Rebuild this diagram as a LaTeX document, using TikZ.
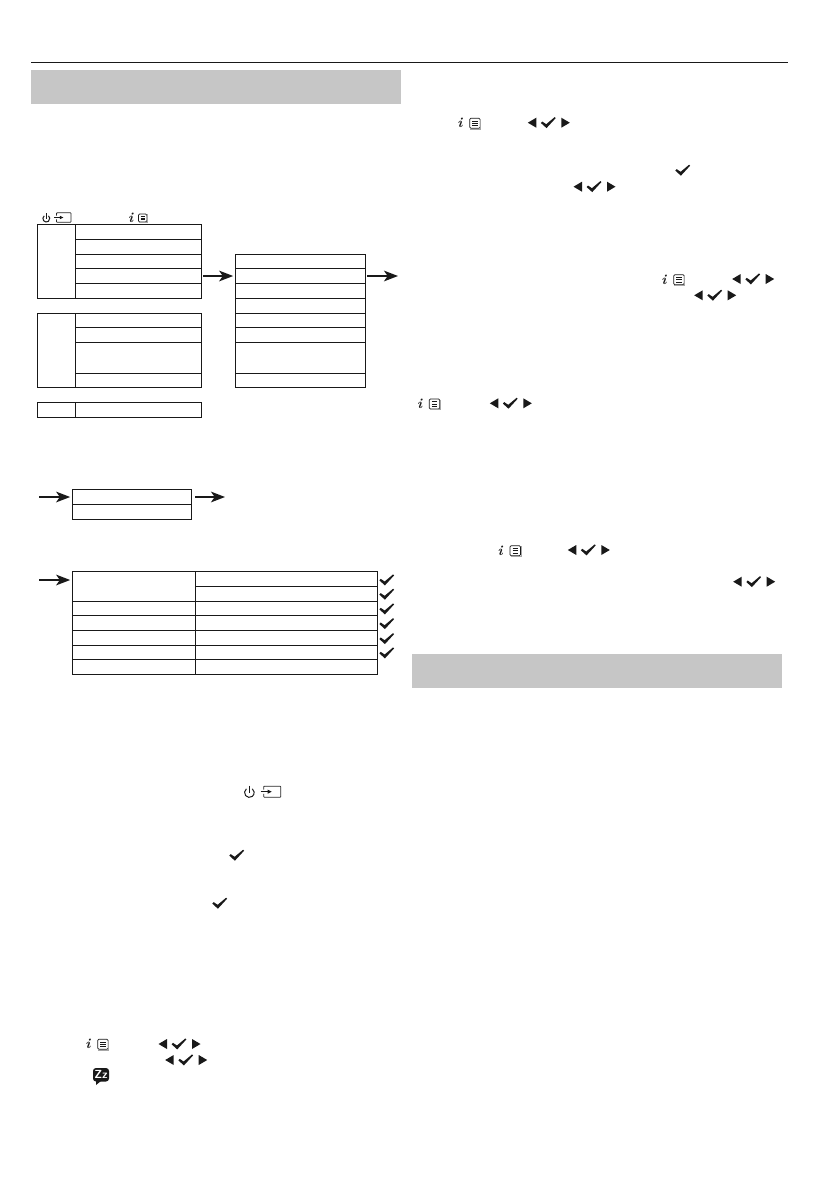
\documentclass[tikz,border=0pt]{standalone}
\usepackage{tikz}
\usetikzlibrary{arrows.meta,positioning,calc}

\definecolor{barGrey}{HTML}{C6C6C6}
\newcommand{\rowcell}[5]{\node[cellbox, minimum width={(#4-#2)*0.03cm}, minimum height={(#5-#3)*0.03cm}] at ({(#2+#4)/2},{(#3+#5)/2}) (#1) {};}

\tikzset{
	cellbox/.style={draw=black!90, line width=0.75pt, inner sep=0pt, outer sep=0pt},
	flowarrow/.style={-{Stealth[length=0.42cm,width=0.32cm,inset=0.11cm]}, line width=1.5pt, black!90},
	pics/tickmark/.style={code={
		\fill[black!90] (-7.4,0.3) -- (-6,-1.2) -- (-2.1,1.5) -- (6.4,-5.6) -- (7.4,-4.6) -- (-1.8,5.4) -- cycle;
	}},
	pics/navkeys/.style={code={
		\fill[black!90] (-20.5,0) -- (-12,-5) -- (-12,5) -- cycle;
		\fill[black!90] (21.5,0) -- (13,-5) -- (13,5) -- cycle;
		\pic {tickmark};
	}},
	pics/powericon/.style={code={
		\draw[line width=0.85pt, black!90] (-2.9,-3.7) arc[start angle=232, end angle=-52, radius=4.8];
		\draw[line width=0.85pt, black!90] (0,-7) -- (0,0);
	}},
	pics/inputicon/.style={code={
		\draw[line width=0.65pt, black!85, rounded corners=0.5pt] (-7,-2.2) -- (-7,-5.5) -- (10,-5.5) -- (10,5.5) -- (-7,5.5) -- (-7,2.2);
		\draw[line width=0.65pt, black!90] (-10,0) -- (-2,0);
		\fill[black!90] (1,0) -- (-3,-2) -- (-3,2) -- cycle;
	}},
	pics/infoicon/.style={code={
		\node[inner sep=0pt, text=black!90, font=\fontsize{12}{12}\bfseries\itshape] at (-0.8,0) (-glyph) {i};
		\filldraw[draw=black!90, fill=white, line width=0.6pt, rounded corners=1pt] (9,-5) rectangle (19.5,5);
		\draw[black!35, line width=0.6pt] (9.5,5.6) -- (20,5.6) -- (20,-4.5);
		\foreach \ly in {-2.3,0,2.3}
			\draw[black!90, line width=0.7pt] (11.5,\ly) -- (17,\ly);
	}},
	pics/sleepicon/.style={code={
		\fill[black!90, rounded corners=2.5pt] (-8,-7.5) rectangle (8,6);
		\fill[black!90] (-5,5) -- (-5,9.5) -- (0,5.5) -- cycle;
		\node[inner sep=0pt, text=white, font=\fontsize{10}{10}\sffamily\bfseries] at (0,-1) (-label) {Zz};
	}}
}

\begin{document}
\begin{tikzpicture}[x=0.03cm, y=-0.03cm]
	\useasboundingbox (0,0) rectangle (839,1191);

	\draw[line width=0.75pt, black!90] (31,62.5) -- (788,62.5);
	\fill[barGrey] (31,70) rectangle (401,104);
	\fill[barGrey] (412,654) rectangle (782,688);

	% first column of tables
	\rowcell{Aside}{37.5}{224.5}{75.5}{298.5}
	\rowcell{A1}{75.5}{224.5}{201.5}{239.5}
	\rowcell{A2}{75.5}{239.5}{201.5}{254.5}
	\rowcell{A3}{75.5}{254.5}{201.5}{268.5}
	\rowcell{A4}{75.5}{268.5}{201.5}{283.5}
	\rowcell{A5}{75.5}{283.5}{201.5}{298.5}

	\rowcell{Bside}{37.5}{313.5}{75.5}{387.5}
	\rowcell{B1}{75.5}{313.5}{201.5}{327.5}
	\rowcell{B2}{75.5}{327.5}{201.5}{342.5}
	\rowcell{B3}{75.5}{342.5}{201.5}{373.5}
	\rowcell{B4}{75.5}{373.5}{201.5}{387.5}

	\rowcell{Cside}{37.5}{402.5}{75.5}{417.5}
	\rowcell{C1}{75.5}{402.5}{201.5}{417.5}

	% second column
	\rowcell{P1}{235.5}{254.5}{365.5}{268.5}
	\rowcell{P2}{235.5}{268.5}{365.5}{283.5}
	\rowcell{P3}{235.5}{283.5}{365.5}{298.5}
	\rowcell{P4}{235.5}{298.5}{365.5}{313.5}
	\rowcell{P5}{235.5}{313.5}{365.5}{327.5}
	\rowcell{P6}{235.5}{327.5}{365.5}{342.5}
	\rowcell{P7}{235.5}{342.5}{365.5}{373.5}
	\rowcell{P8}{235.5}{373.5}{365.5}{387.5}

	% small table
	\rowcell{R1}{72.5}{489.5}{191.5}{504.5}
	\rowcell{R2}{72.5}{504.5}{191.5}{519.5}

	% wide table
	\rowcell{S1}{72.5}{571.5}{195.5}{601.5}
	\rowcell{T1}{195.5}{571.5}{377.5}{586.5}
	\rowcell{T2}{195.5}{586.5}{377.5}{601.5}
	\rowcell{S3}{72.5}{601.5}{195.5}{615.5}
	\rowcell{T3}{195.5}{601.5}{377.5}{615.5}
	\rowcell{S4}{72.5}{615.5}{195.5}{630.5}
	\rowcell{T4}{195.5}{615.5}{377.5}{630.5}
	\rowcell{S5}{72.5}{630.5}{195.5}{645.5}
	\rowcell{T5}{195.5}{630.5}{377.5}{645.5}
	\rowcell{S6}{72.5}{645.5}{195.5}{659.5}
	\rowcell{T6}{195.5}{645.5}{377.5}{659.5}
	\rowcell{S7}{72.5}{659.5}{195.5}{674.5}
	\rowcell{T7}{195.5}{659.5}{377.5}{674.5}

	\coordinate (outP) at (398,276);
	\coordinate (inR) at (39,497);
	\coordinate (outR) at (225,497);
	\coordinate (inS) at (39,580);

	\draw[flowarrow, shorten <=1.5pt, shorten >=2pt] (A4.east) -- (P2.west);
	\draw[flowarrow, shorten <=1.5pt] (P2.east) -- (outP);
	\draw[flowarrow, shorten >=2pt] (inR) -- (R1.west);
	\draw[flowarrow, shorten <=3pt] (R1.east) -- (outR);
	\draw[flowarrow, shorten >=2pt] (inS) -- (inS -| S1.west);

	\foreach \ty in {580,594.3,609,623.7,638.7,653}
		\pic at (386.7,\ty) {tickmark};
	\pic at (236.7,855.3) {tickmark};
	\pic at (219.7,903.3) {tickmark};
	\pic at (682.7,170.3) {tickmark};

	\foreach \nx/\ny in {179/1044,185.7/1060,548.3/122.7,594/186.7,752.7/279,714.7/295.3,510.3/403.3,588.3/550,753.7/581.7}
		\pic at (\nx,\ny) {navkeys};

	\pic[scale=0.8] (info1) at (131.3,218) {infoicon};
	\foreach \ix/\iy [count=\ii from 2] in {88.7/1044.3,460.7/123.3,664.7/279.7,420.3/404,501/550.7}
		\pic (info\ii) at (\ix,\iy) {infoicon};

	\pic[scale=0.72] at (46.3,218.5) {powericon};
	\pic[scale=0.85] at (62.5,217.5) {inputicon};
	\pic at (249.3,792.5) {powericon};
	\pic at (270.7,791.7) {inputicon};

	\pic (sleep) at (101,1075.5) {sleepicon};
\end{tikzpicture}
\end{document}
